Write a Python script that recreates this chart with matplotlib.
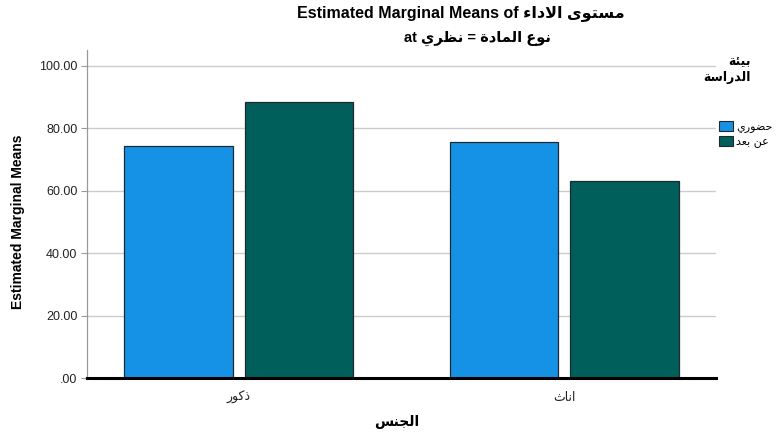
import matplotlib
matplotlib.use("Agg")
import matplotlib.pyplot as plt
from matplotlib.patches import Patch
import numpy as np

# ---------------- data ----------------
categories = ["ذكور", "اناث"]          # الجنس
series_names = ["حضوري", "عن بعد"]     # بيئة الدراسة
values_hudori = [74.4, 75.6]
values_an_bud = [88.2, 63.0]
yticks = [0, 20, 40, 60, 80, 100]
ytick_labels = [".00", "20.00", "40.00", "60.00", "80.00", "100.00"]
colors = ["#1591E6", "#005E5B"]

# ------------- minimal Arabic shaping (presentation forms, visual order) -------------
DUAL = {
    'ئ': (0xFE89, 0xFE8A, 0xFE8B, 0xFE8C), 'ب': (0xFE8F, 0xFE90, 0xFE91, 0xFE92),
    'ت': (0xFE95, 0xFE96, 0xFE97, 0xFE98), 'ث': (0xFE99, 0xFE9A, 0xFE9B, 0xFE9C),
    'ج': (0xFE9D, 0xFE9E, 0xFE9F, 0xFEA0), 'ح': (0xFEA1, 0xFEA2, 0xFEA3, 0xFEA4),
    'س': (0xFEB1, 0xFEB2, 0xFEB3, 0xFEB4), 'ض': (0xFEBD, 0xFEBE, 0xFEBF, 0xFEC0),
    'ظ': (0xFEC5, 0xFEC6, 0xFEC7, 0xFEC8), 'ع': (0xFEC9, 0xFECA, 0xFECB, 0xFECC),
    'ك': (0xFED9, 0xFEDA, 0xFEDB, 0xFEDC), 'ل': (0xFEDD, 0xFEDE, 0xFEDF, 0xFEE0),
    'م': (0xFEE1, 0xFEE2, 0xFEE3, 0xFEE4), 'ن': (0xFEE5, 0xFEE6, 0xFEE7, 0xFEE8),
    'ي': (0xFEF1, 0xFEF2, 0xFEF3, 0xFEF4),
}
RIGHT = {
    'ا': (0xFE8D, 0xFE8E), 'د': (0xFEA9, 0xFEAA), 'ذ': (0xFEAB, 0xFEAC),
    'ر': (0xFEAD, 0xFEAE), 'ز': (0xFEAF, 0xFEB0), 'و': (0xFEED, 0xFEEE),
    'ى': (0xFEEF, 0xFEF0), 'ة': (0xFE93, 0xFE94), 'LA': (0xFEFB, 0xFEFC),
}
NONE = {'ء': (0xFE80,)}


def ar(text):
    toks = []
    i = 0
    while i < len(text):
        if text[i] == 'ل' and i + 1 < len(text) and text[i + 1] == 'ا':
            toks.append('LA')
            i += 2
        else:
            toks.append(text[i])
            i += 1
    out = []
    for k, t in enumerate(toks):
        if t in DUAL or t in RIGHT:
            jp = k > 0 and toks[k - 1] in DUAL
            jn = t in DUAL and k + 1 < len(toks) and (toks[k + 1] in DUAL or toks[k + 1] in RIGHT)
            forms = DUAL.get(t) or RIGHT.get(t)
            if jp and jn:
                idx = 3
            elif jp:
                idx = 1
            elif jn:
                idx = 2
            else:
                idx = 0
            out.append(chr(forms[idx]))
        elif t in NONE:
            out.append(chr(NONE[t][0]))
        else:
            out.append(t)
    return ''.join(reversed(out))


LAT = ['Liberation Sans', 'DejaVu Sans']
plt.rcParams['font.family'] = LAT

W, H = 776, 436
fig = plt.figure(figsize=(W / 100, H / 100), dpi=100)
ax = fig.add_axes([87 / W, 1 - 378 / H, (716 - 87) / W, (378 - 50) / H])

x = np.arange(len(categories))
off = 0.185
bw = 0.333
ax.bar(x - off, values_hudori, bw, color=colors[0], edgecolor="#1e2a30", linewidth=0.9, zorder=3)
ax.bar(x + off, values_an_bud, bw, color=colors[1], edgecolor="#1e2a30", linewidth=0.9, zorder=3)

ax.set_xlim(-0.466, 1.466)
ax.set_ylim(0, 105)
ax.set_yticks(yticks)
ax.set_yticklabels(ytick_labels, fontsize=9, color="#222222")
ax.yaxis.grid(True, color="#cccccc", linewidth=1.0, zorder=0)
ax.set_axisbelow(True)
ax.tick_params(axis='y', length=4, color="#999999", width=0.8, pad=3)
ax.set_xticks(x)
ax.set_xticklabels([ar(c) for c in categories], fontsize=9, family=['DejaVu Sans'], color="#222222")
ax.tick_params(axis='x', length=0, pad=9)

for s in ["top", "right"]:
    ax.spines[s].set_visible(False)
ax.spines["left"].set_color("#999999")
ax.spines["left"].set_linewidth(0.9)
ax.spines["bottom"].set_color("#000000")
ax.spines["bottom"].set_linewidth(2.2)
ax.spines["bottom"].set_zorder(5)

# axis titles
fig.text(18 / W, 1 - 222 / H, "Estimated Marginal Means", rotation=90, ha="center", va="center",
         fontsize=10, fontweight="bold", family=['Liberation Sans', 'DejaVu Sans'])
fig.text(397 / W, 1 - 422 / H, ar("الجنس"), ha="center", va="center", fontsize=10,
         fontweight="bold", family=['DejaVu Sans'])

# titles
fig.text(461 / W, 1 - 13 / H, "Estimated Marginal Means of " + ar("مستوى الاداء"), ha="center",
         va="center", fontsize=11.5, fontweight="bold", family=LAT)
fig.text(477 / W, 1 - 38 / H, "at " + ar("نوع المادة = نظري"), ha="center", va="center",
         fontsize=10.5, fontweight="bold", family=LAT)

# legend
fig.text(751 / W, 1 - 62 / H, ar("بيئة"), ha="right", va="center", fontsize=9,
         fontweight="bold", family=['DejaVu Sans'])
fig.text(751 / W, 1 - 77 / H, ar("الدراسة"), ha="right", va="center", fontsize=9,
         fontweight="bold", family=['DejaVu Sans'])
handles = [Patch(facecolor=colors[0], edgecolor="#1e2a30", linewidth=0.8),
           Patch(facecolor=colors[1], edgecolor="#1e2a30", linewidth=0.8)]
leg = fig.legend(handles, [ar(s) for s in series_names], loc="upper left",
                 bbox_to_anchor=(712 / W, 1 - 114 / H), frameon=False,
                 prop={'family': ['DejaVu Sans'], 'size': 8}, handlelength=1.3,
                 handleheight=1.1, handletextpad=0.3, labelspacing=0.25, borderpad=0.1)

fig.savefig("out.png", dpi=100)
